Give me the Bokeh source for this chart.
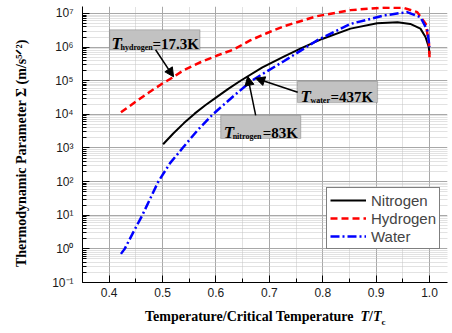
import numpy as np
from bokeh.plotting import figure
from bokeh.layouts import column
from bokeh.models import (Range1d, FixedTicker, CustomJSTickFormatter, BoxAnnotation,
                          Label, Arrow, NormalHead, Legend, LegendItem, Div)
from bokeh.embed import file_html
from bokeh.resources import INLINE

# ---------------- data ----------------
nitrogen_x = [0.501, 0.52, 0.54, 0.56, 0.58, 0.60, 0.623, 0.646, 0.687, 0.727, 0.76, 0.80,
              0.852, 0.902, 0.94, 0.964, 0.983, 0.9925, 0.9987, 1.0]
nitrogen_y = [1.29e3, 2.69e3, 5.5e3, 1.05e4, 1.86e4, 3.16e4, 5.75e4, 1.0e5, 2.51e5, 5.25e5,
              9.33e5, 1.78e6, 3.55e6, 5.13e6, 5.50e6, 4.90e6, 3.55e6, 2.0e6, 1.0e6, 6.3e5]

hydrogen_x = [0.422, 0.45, 0.475, 0.499, 0.518, 0.539, 0.571, 0.602, 0.633, 0.664,
              0.696, 0.727, 0.789, 0.852, 0.914, 0.952, 0.977, 0.993, 0.999, 1.0]
hydrogen_y = [1.15e4, 2.4e4, 4.57e4, 8.13e4, 1.23e5, 2.04e5, 3.55e5, 5.62e5, 8.5e5, 1.58e6,
              2.63e6, 4.17e6, 8.32e6, 1.26e7, 1.50e7, 1.47e7, 1.10e7, 4.9e6, 1.26e6, 5.0e5]

water_x = [0.422, 0.429, 0.446, 0.462, 0.477, 0.492, 0.514, 0.5375, 0.565, 0.594,
           0.631, 0.667, 0.687, 0.727, 0.789, 0.852, 0.914, 0.958, 0.983, 0.996, 1.0]
water_y = [0.71, 1.0, 3.3, 10.0, 31.6, 100.0, 355.0, 1.0e3, 3.3e3, 1.0e4,
           3.3e4, 1.0e5, 1.58e5, 3.8e5, 1.58e6, 4.9e6, 8.7e6, 1.1e7, 7.8e6, 3.16e6, 1.0e6]

series_names = ["Nitrogen", "Hydrogen", "Water"]
x_ticks = [0.4, 0.5, 0.6, 0.7, 0.8, 0.9, 1.0]
x_minor_ticks = [0.35, 0.45, 0.55, 0.65, 0.75, 0.85, 0.95]
y_ticks = [1e-1, 1e0, 1e1, 1e2, 1e3, 1e4, 1e5, 1e6, 1e7]

# annotation labels: (subscript name, value text)
ann_names = ["hydrogen", "water", "nitrogen"]
ann_values = ["=17.3K", "=437K", "=83K"]

# ---------------- figure ----------------
p = figure(width=448, height=308, y_axis_type="log",
           x_range=Range1d(0.35, 1.0337), y_range=Range1d(0.1, 1.615e7),
           output_backend="svg", toolbar_location=None,
           min_border_left=82, min_border_right=1, min_border_top=6, min_border_bottom=26)
p.outline_line_color = None
p.background_fill_color = "white"
p.border_fill_color = "white"

p.xaxis.ticker = FixedTicker(ticks=x_ticks, minor_ticks=x_minor_ticks)
p.xaxis.formatter = CustomJSTickFormatter(code="return tick.toFixed(1);")
minor_y = [m * d for d in y_ticks[:-1] for m in range(2, 10)]
p.yaxis.ticker = FixedTicker(ticks=y_ticks, minor_ticks=minor_y)
p.yaxis.formatter = CustomJSTickFormatter(code="""
const sup = {"0":"\u2070","1":"\u00b9","2":"\u00b2","3":"\u00b3","4":"\u2074","5":"\u2075",
             "6":"\u2076","7":"\u2077","8":"\u2078","9":"\u2079","-":"\u207b"};
const e = Math.round(Math.log10(tick));
return "10" + String(e).split("").map(c => sup[c]).join("");
""")

for ax in (p.xaxis[0], p.yaxis[0]):
    ax.axis_line_color = "black"
    ax.axis_line_width = 1
    ax.major_tick_line_color = "black"
    ax.minor_tick_line_color = "black"
    ax.major_tick_in = 7
    ax.major_tick_out = 0
    ax.minor_tick_in = 4
    ax.minor_tick_out = 0
    ax.major_label_text_font = "Liberation Sans"
    ax.major_label_text_font_size = "12px"
    ax.major_label_text_color = "#1a1a1a"

p.xaxis.major_label_standoff = 5
p.yaxis.major_label_standoff = 9
p.xaxis.axis_label = None
p.yaxis.axis_label = "Thermodynamic Parameter \u03a3 (m/s\u2075\u141f\u00b2)" + "\u00a0" * 5
p.yaxis.axis_label_text_font = "Liberation Serif"
p.yaxis.axis_label_text_font_style = "bold"
p.yaxis.axis_label_text_font_size = "14px"
p.yaxis.axis_label_text_color = "black"
p.yaxis.axis_label_standoff = 20

for g in (p.xgrid[0], p.ygrid[0]):
    g.grid_line_color = "#a8a8a8"
    g.grid_line_width = 1
    g.minor_grid_line_color = "#c4c4c4"
    g.minor_grid_line_dash = "1 1"
    g.minor_grid_line_width = 1

# ---------------- curves ----------------
r_n = p.line(nitrogen_x, nitrogen_y, line_color="black", line_width=2)
r_h = p.line(hydrogen_x, hydrogen_y, line_color="#ff0000", line_width=2.5, line_dash="7 4")
r_w = p.line(water_x, water_y, line_color="#0000ff", line_width=2.5, line_dash="9 3 2 3")

legend = Legend(items=[LegendItem(label=series_names[0], renderers=[r_n]),
                       LegendItem(label=series_names[1], renderers=[r_h]),
                       LegendItem(label=series_names[2], renderers=[r_w])],
                location=(244, 33), margin=0, padding=3, spacing=0,
                glyph_width=36, glyph_height=18, label_height=18, label_standoff=5,
                label_text_font="Liberation Sans", label_text_font_size="15px",
                border_line_color="black", border_line_width=1,
                background_fill_color="white", background_fill_alpha=1)
p.add_layout(legend)

# ---------------- annotation boxes ----------------
boxes = [
    dict(l=0.4006, r=0.5700, b=10**5.923, t=10**6.516, tx=2, sx=11, vx=43),
    dict(l=0.7526, r=0.9026, b=10**4.350, t=10**4.991, tx=3, sx=13, vx=33),
    dict(l=0.6088, r=0.7588, b=10**3.282, t=10**3.973, tx=3, sx=12, vx=42),
]
for bx, nm, val in zip(boxes, ann_names, ann_values):
    p.add_layout(BoxAnnotation(left=bx["l"], right=bx["r"], bottom=bx["b"], top=bx["t"],
                               fill_color="#c2c2c2", fill_alpha=1,
                               line_color="#5a5a5a", line_width=1.2))
    p.add_layout(Label(x=bx["l"], y=bx["b"], x_offset=bx["tx"], y_offset=6, text="T",
                       text_font="Liberation Serif", text_font_style="bold italic",
                       text_font_size="17px", text_baseline="alphabetic", text_color="black"))
    p.add_layout(Label(x=bx["l"], y=bx["b"], x_offset=bx["sx"], y_offset=2.5, text=nm,
                       text_font="Liberation Serif", text_font_style="bold",
                       text_font_size="8px", text_baseline="alphabetic", text_color="black"))
    p.add_layout(Label(x=bx["l"], y=bx["b"], x_offset=bx["vx"], y_offset=6, text=val,
                       text_font="Liberation Serif", text_font_style="bold",
                       text_font_size="15px", text_baseline="alphabetic", text_color="black"))

def on_curve(xq, xs, ys):
    return 10 ** np.interp(xq, xs, np.log10(ys))

arrows = [
    (0.4869, 10**5.923, 0.5206, hydrogen_x, hydrogen_y),
    (0.7531, 10**4.656, 0.6744, water_x, water_y),
    (0.6744, 10**3.973, 0.6594, nitrogen_x, nitrogen_y),
]
for xs0, ys0, xe, cx, cy in arrows:
    p.add_layout(Arrow(end=NormalHead(size=9, fill_color="black", line_color="black"),
                       x_start=xs0, y_start=ys0, x_end=xe, y_end=on_curve(xe, cx, cy),
                       line_color="black", line_width=1.5))

# ---------------- x axis title (mixed styles, real text) ----------------
xtitle = Div(
    text=('<div style="padding-left:145px;padding-top:1px;white-space:nowrap;'
          'font-family:\'Liberation Serif\',serif;font-weight:bold;font-size:14px;'
          'line-height:16px;color:black;">'
          'Temperature/Critical Temperature&nbsp;&nbsp;<i>T</i>/<i>T</i>'
          '<sub style="font-size:9px;">c</sub></div>'),
    width=448, height=22, margin=0)

layout = column(p, xtitle, spacing=0)

open("out.html", "w", encoding="utf-8").write(file_html(layout, INLINE))
